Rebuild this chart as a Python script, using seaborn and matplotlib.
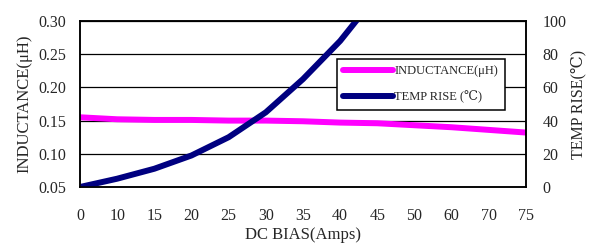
import numpy as np
import pandas as pd
import matplotlib
matplotlib.use("Agg")
import matplotlib.pyplot as plt
import seaborn as sns

# data
dc_bias = ["0", "10", "15", "20", "25", "30", "35", "40", "45", "50", "60", "70", "75"]
inductance = [0.155, 0.152, 0.151, 0.151, 0.150, 0.150, 0.149, 0.147, 0.146,
              0.143, 0.140, 0.136, 0.132]
temp_rise = [0, 5, 11, 19, 30, 45, 65, 88, 116,
             np.nan, np.nan, np.nan, np.nan]

df = pd.DataFrame({"bias": dc_bias, "L": inductance, "T": temp_rise})

sns.set_style("white")
plt.rcParams["font.family"] = ["Liberation Serif", "DejaVu Serif", "DejaVu Sans"]

fig = plt.figure(figsize=(5.89, 2.44), dpi=100)
ax = fig.add_axes([80 / 589, 1 - 187 / 244, 446 / 589, 166 / 244])

sns.lineplot(data=df, x="bias", y="L", ax=ax, color="#FF00FF", linewidth=4.3,
             sort=False, label="INDUCTANCE(μH)", legend=False)
ax2 = ax.twinx()
sns.lineplot(data=df, x="bias", y="T", ax=ax2, color="#000080", linewidth=4.3,
             sort=False, label="TEMP RISE (℃)", legend=False)

ax.set_xlim(0, len(dc_bias) - 1)
ax.set_ylim(0.05, 0.30)
ax.set_yticks(np.arange(0.05, 0.301, 0.05))
ax.set_yticklabels([f"{v:.2f}" for v in np.arange(0.05, 0.301, 0.05)])
ax2.set_ylim(0, 100)
ax2.set_yticks(range(0, 101, 20))

ax.grid(True, axis="y", color="black", linewidth=0.9)
ax.set_axisbelow(True)
ax.tick_params(axis="y", length=0, pad=10, labelsize=11.5)
ax2.tick_params(axis="y", length=0, pad=12, labelsize=11.5)
ax.tick_params(axis="x", direction="in", length=4, width=1, pad=15, labelsize=11.5)

for a in (ax, ax2):
    for s in a.spines.values():
        s.set_color("black")
        s.set_linewidth(1.1)

ax.set_xlabel("DC BIAS(Amps)", fontsize=12, labelpad=2)
ax.set_ylabel("INDUCTANCE(μH)", fontsize=12, labelpad=4)
ax2.set_ylabel("TEMP RISE(℃)", fontsize=11.5, labelpad=3)

handles = ax.get_lines()[:1] + ax2.get_lines()[:1]
leg = ax2.legend(handles, [h.get_label() for h in handles],
                 loc="upper left", bbox_to_anchor=(337 / 589, 1 - 59 / 244),
                 bbox_transform=fig.transFigure, frameon=True, fancybox=False,
                 edgecolor="black", framealpha=1, fontsize=9, handlelength=4.0,
                 handletextpad=0.1, borderpad=0.5, labelspacing=1.1,
                 borderaxespad=0)
leg.get_frame().set_linewidth(1.1)

fig.savefig("out.png", dpi=100)
